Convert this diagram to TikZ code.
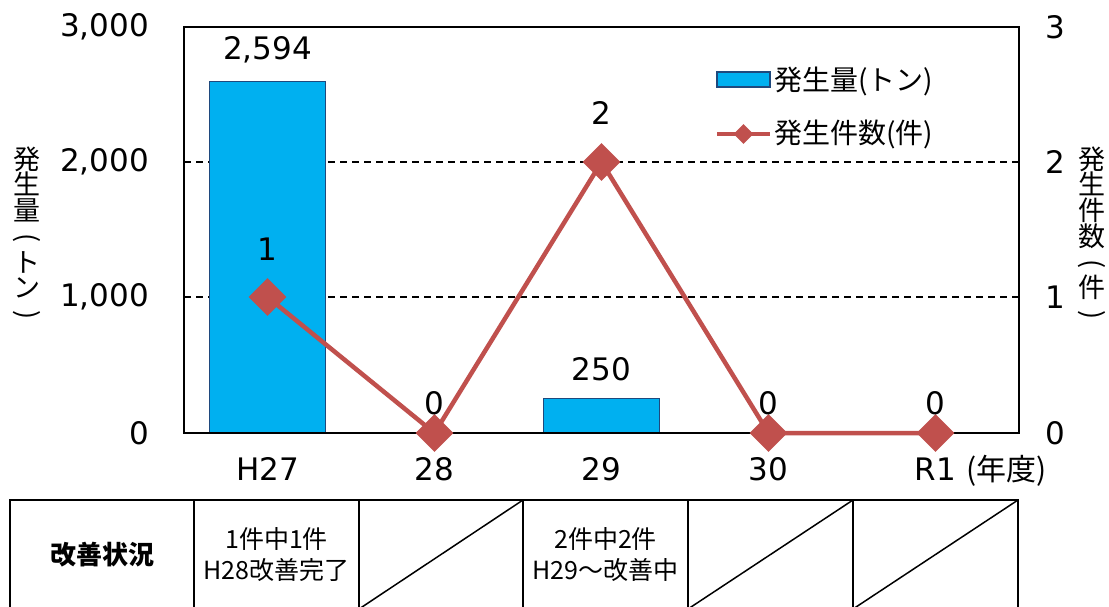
\documentclass[tikz,border=0pt]{standalone}
\usepackage{fontspec}
\setmainfont{Noto Sans CJK JP}
\newfontfamily\numfont{DejaVu Sans}
\usetikzlibrary{positioning,shapes.geometric,backgrounds}

\definecolor{barblue}{RGB}{0,176,240}
\definecolor{barline}{RGB}{31,73,125}
\definecolor{linered}{RGB}{192,80,77}

% rotated bracket for the upright axis titles
\newcommand{\vopen}{\rotatebox[origin=c]{-90}{(}}
\newcommand{\vclose}{\rotatebox[origin=c]{-90}{)}}

\begin{document}
\begin{tikzpicture}[x=1pt, y=-1pt,
    % chart look
    barbox/.style={rectangle, draw=barline, fill=barblue, line width=1.5pt,
                   minimum width=116pt, anchor=south, inner sep=0pt},
    gridline/.style={black, line width=1.3pt, dash pattern=on 7pt off 5pt},
    axisframe/.style={black, line width=2.5pt},
    series/.style={linered, line width=4.5pt},
    marker/.style={diamond, fill=linered, inner sep=0pt, minimum size=38pt},
    % texts
    ticklabel/.style={font=\numfont\fontsize{31}{36}\selectfont, inner sep=0pt},
    datalabel/.style={ticklabel},
    axistitle/.style={align=center, inner sep=0pt, font=\fontsize{27}{25.7}\selectfont},
    legendtext/.style={anchor=west, inner sep=0pt, font=\fontsize{28}{30}\selectfont},
    % table below the chart
    cell/.style={rectangle, draw=black, line width=2pt, outer sep=0pt,
                 minimum height=109pt, minimum width=165pt, anchor=north west,
                 align=center, font=\fontsize{25}{31}\selectfont},
    slash/.style={black, line width=1.5pt}
]

\useasboundingbox (0,0) rectangle (1109,606);

% Plot area corners
\coordinate (origin) at (184,433);
\coordinate (topright) at (1019,27);

% Markers of the count series
\node[marker] (pH27) at (267.5,297) {};
\node[marker] (p28) at (434.5,433) {};
\node[marker] (p29) at (601.5,162) {};
\node[marker] (p30) at (768.5,433) {};
\node[marker] (pR1) at (935.5,433) {};

% Grid, bars, frame and series line behind the markers
\begin{scope}[on background layer]
    \draw[gridline] (184,162) -- (1019,162);
    \draw[gridline] (184,297) -- (1019,297);
    \node[barbox, minimum height=351pt] (barH27) at (267.5,433) {};
    \node[barbox, minimum height=34pt] (bar29) at (601.5,433) {};
    \draw[axisframe] (origin) rectangle (topright);
    \draw[series] (pH27.center) -- (p28.center) -- (p29.center)
                  -- (p30.center) -- (pR1.center);
\end{scope}

% Left axis
\node[ticklabel, anchor=east] (l3000) at (149,27) {3,000};
\node[ticklabel, anchor=east] (l2000) at (149,162) {2,000};
\node[ticklabel, anchor=east] (l1000) at (149,297) {1,000};
\node[ticklabel, anchor=east] (l0) at (149,433) {0};
\node[axistitle] (ytitle) at (27,235) {発\\生\\量\\\vopen\\ト\\ン\\\vclose};

% Right axis
\node[ticklabel, anchor=west] (r3) at (1045,27) {3};
\node[ticklabel, anchor=west] (r2) at (1045,162) {2};
\node[ticklabel, anchor=west] (r1) at (1045,297) {1};
\node[ticklabel, anchor=west] (r0) at (1045,433) {0};
\node[axistitle] (y2title) at (1092,235) {発\\生\\件\\数\\\vopen\\件\\\vclose};

% Category labels
\node[ticklabel] (xH27) at (267.5,469) {H27};
\node[ticklabel] (x28) at (434.5,469) {28};
\node[ticklabel] (x29) at (601.5,469) {29};
\node[ticklabel] (x30) at (768.5,469) {30};
\node[ticklabel] (xR1) at (935.5,469) {R1};
\node[anchor=base west, inner sep=0pt, font=\fontsize{30}{34}\selectfont]
    (xunit) at ([xshift=10pt]xR1.base east) {(年度)};

% Data labels
\node[datalabel] (vH27) at (267.5,50) {2,594};
\node[datalabel] (v29) at (601.5,369) {250};
\node[datalabel] (cH27) at (267.5,249) {1};
\node[datalabel] (c28) at (434.5,403) {0};
\node[datalabel] (c29) at (601.5,113) {2};
\node[datalabel] (c30) at (768.5,403) {0};
\node[datalabel] (cR1) at (935.5,403) {0};

% Legend
\node[barbox, anchor=center, minimum width=53pt, minimum height=15pt] (keybar) at (743.5,79.5) {};
\node[legendtext] (keybartext) at (774,81) {発生量(トン)};
\coordinate (keyA) at (717,134);
\coordinate (keyB) at (770,134);
\draw[series] (keyA) -- (keyB);
\node[marker, minimum size=20pt] (keymark) at (743.5,134) {};
\node[legendtext] (keylinetext) at (774,134) {発生件数(件)};

% Status table (its lower edge runs off the page)
\begin{scope}
    \clip (0,0) rectangle (1109,606);
    \node[cell, minimum width=184pt, font=\fontsize{26}{28}\selectfont\bfseries] (head) at (10,500) {改善状況};
    \node[cell, right=0pt of head] (tH27) {1件中1件\\H28改善完了};
    \node[cell, minimum width=164pt, right=0pt of tH27] (t28) {};
    \node[cell, right=0pt of t28] (t29) {2件中2件\\H29〜改善中};
    \node[cell, right=0pt of t29] (t30) {};
    \node[cell, right=0pt of t30] (tR1) {};
    \draw[slash] (t28.south west) -- (t28.north east);
    \draw[slash] (t30.south west) -- (t30.north east);
    \draw[slash] (tR1.south west) -- (tR1.north east);
\end{scope}

\end{tikzpicture}
\end{document}
